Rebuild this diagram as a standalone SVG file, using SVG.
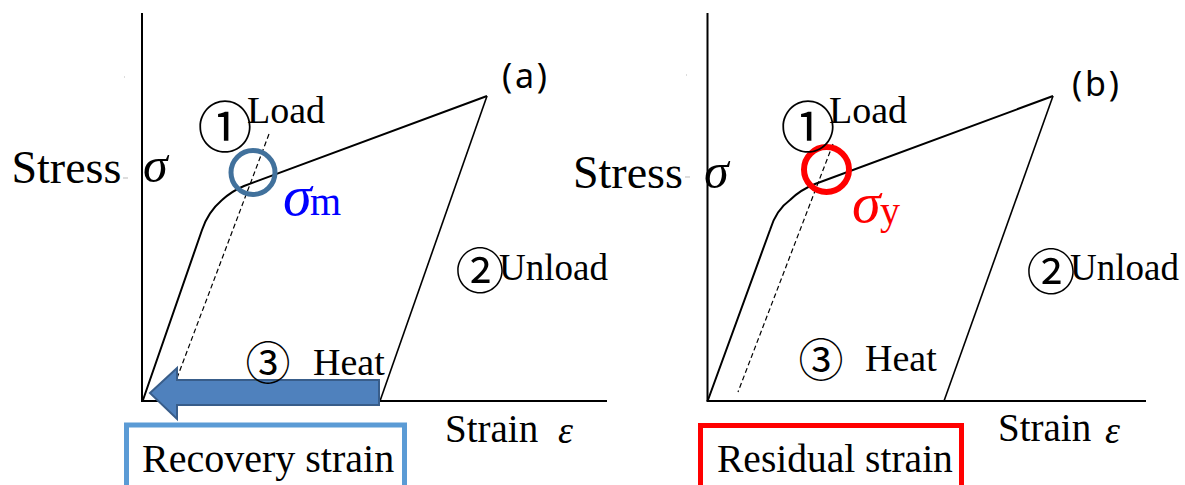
<svg xmlns="http://www.w3.org/2000/svg" width="1185" height="485" viewBox="0 0 1185 485">
<defs>
<style>
.serif{font-family:"Liberation Serif","Times New Roman",serif;fill:#000}
.it{font-style:italic}
.num{font-family:"Noto Sans CJK JP","DejaVu Sans",sans-serif;fill:#000}
.sans{font-family:"Noto Sans","Liberation Sans",sans-serif;fill:#000}
.axis{stroke:#000;stroke-width:2;fill:none}
.curve{stroke:#000;stroke-width:2;fill:none;stroke-linejoin:round}
.unl{stroke:#000;stroke-width:1.6;fill:none}
.dash{stroke:#000;stroke-width:1.2;stroke-dasharray:5 3;fill:none}
.tick{stroke:#bbb;stroke-width:1}
</style>
</defs>
<rect width="1185" height="485" fill="#fff"/>

<g id="panel-a">
  <g id="axes-a">
    <line class="axis" x1="142" y1="13" x2="142" y2="401"/>
    <line class="axis" x1="141" y1="401" x2="607" y2="401"/>
    <line class="tick" x1="123" y1="178" x2="128" y2="178"/>
    <line class="tick" x1="124" y1="77" x2="125" y2="77"/>
  </g>
  <g id="curve-a">
    <line class="dash" x1="269" y1="134" x2="174" y2="386"/>
    <path class="curve" d="M143,400 L202,230 Q208,212 222,200 Q232,191 244,186 L487,96"/>
    <line class="unl" x1="487" y1="96" x2="380" y2="401"/>
  </g>
  <g id="circle-a"><circle cx="253" cy="172.5" r="22" fill="none" stroke="#41719c" stroke-width="5"/></g>
  <g id="arrow-a"><path d="M150,393 L177,368 L177,380 L379,380 L379,405 L177,405 L177,419 Z" fill="#4f81bd" stroke="#385d8a" stroke-width="2" stroke-linejoin="miter"/></g>
  <g id="labels-a">
    <text class="serif" x="11.5" y="183" font-size="46">Stress</text>
    <text class="serif it" x="143" y="182" font-size="50">σ</text>
    <text class="num" x="225" y="123" font-size="55" text-anchor="middle" dominant-baseline="central">①</text>
    <text class="serif" x="247" y="123" font-size="38">Load</text>
    <text class="serif it" x="283" y="215" font-size="58" style="fill:#0000ff">σ</text>
    <text class="serif" x="310" y="215" font-size="40" style="fill:#0000ff">m</text>
    <text class="sans" x="502" y="88" font-size="34" textLength="45" lengthAdjust="spacing">(a)</text>
    <text class="num" x="480" y="267" font-size="49" text-anchor="middle" dominant-baseline="central">②</text>
    <text class="serif" x="499" y="280" font-size="37">Unload</text>
    <text class="num" x="268" y="360" font-size="45" text-anchor="middle" dominant-baseline="central">③</text>
    <text class="serif" x="313" y="375" font-size="38">Heat</text>
    <text class="serif" x="445" y="442" font-size="39">Strain</text>
    <text class="serif it" x="558" y="443" font-size="38">ε</text>
  </g>
  <g id="box-a">
    <rect x="126.5" y="425" width="278" height="80" fill="none" stroke="#5b9bd5" stroke-width="5"/>
    <text class="serif" x="142" y="472" font-size="40">Recovery strain</text>
  </g>
</g>

<g id="panel-b">
  <g id="axes-b">
    <line class="axis" x1="707.5" y1="13" x2="707.5" y2="401"/>
    <line class="axis" x1="706.5" y1="401" x2="1146" y2="401"/>
    <line class="tick" x1="685" y1="177" x2="690" y2="177"/>
    <line class="tick" x1="686" y1="75" x2="687" y2="75"/>
  </g>
  <g id="curve-b">
    <line class="dash" x1="833" y1="144" x2="738" y2="392"/>
    <path class="curve" d="M708,400 L770,230 Q776,210 790,200 Q800,190 815,184 L1053,96"/>
    <line class="unl" x1="1053" y1="96" x2="944" y2="401"/>
  </g>
  <g id="circle-b"><circle cx="826.5" cy="169.5" r="22.5" fill="none" stroke="#ff0000" stroke-width="6"/></g>
  <g id="labels-b">
    <text class="serif" x="573" y="188" font-size="46">Stress</text>
    <text class="serif it" x="704" y="188" font-size="50">σ</text>
    <text class="num" x="808" y="123" font-size="55" text-anchor="middle" dominant-baseline="central">①</text>
    <text class="serif" x="829" y="123" font-size="38">Load</text>
    <text class="serif it" x="852" y="222" font-size="58" style="fill:#ff0000">σ</text>
    <text class="serif" x="880" y="224" font-size="40" style="fill:#ff0000">y</text>
    <text class="sans" x="1072" y="96" font-size="34" textLength="47" lengthAdjust="spacing">(b)</text>
    <text class="num" x="1051" y="268" font-size="49" text-anchor="middle" dominant-baseline="central">②</text>
    <text class="serif" x="1070" y="280" font-size="37">Unload</text>
    <text class="num" x="821" y="357" font-size="45" text-anchor="middle" dominant-baseline="central">③</text>
    <text class="serif" x="865" y="371" font-size="38">Heat</text>
    <text class="serif" x="998" y="441" font-size="39">Strain</text>
    <text class="serif it" x="1105" y="443" font-size="38">ε</text>
  </g>
  <g id="box-b">
    <rect x="700.5" y="425.5" width="261" height="80" fill="none" stroke="#ff0000" stroke-width="5"/>
    <text class="serif" x="717" y="472" font-size="39.5">Residual strain</text>
  </g>
</g>
</svg>
